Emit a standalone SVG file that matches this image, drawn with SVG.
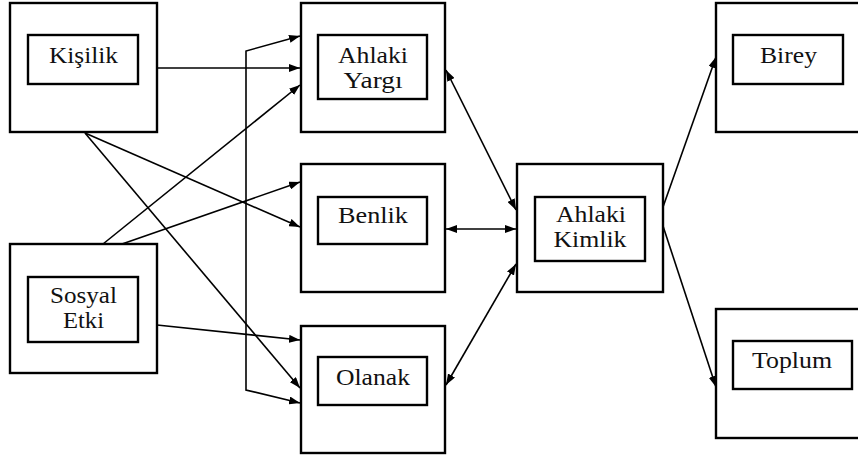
<svg xmlns="http://www.w3.org/2000/svg" width="858" height="459" viewBox="0 0 858 459">
<defs>
<marker id="ah" viewBox="0 0 11 8" refX="11" refY="4" markerWidth="11" markerHeight="8" markerUnits="userSpaceOnUse" orient="auto-start-reverse">
<path d="M0,0 L11,4 L0,8 Z" fill="#000"/>
</marker>
<style>
.outer{fill:#fff;stroke:#000;stroke-width:2.4}
.inner{fill:#fff;stroke:#000;stroke-width:2.4}
.c{fill:none;stroke:#000;stroke-width:1.6}
</style>
</defs>
<rect width="858" height="459" fill="#fff"/>
<g font-family="Liberation Serif, serif" font-size="23" fill="#111" text-anchor="middle">
<g id="kisilik">
<rect class="outer" x="10" y="3" width="147" height="129"/>
<rect class="inner" x="28" y="35" width="110" height="49"/>
<text x="83.5" y="63" textLength="69" lengthAdjust="spacingAndGlyphs">Kişilik</text>
</g>
<g id="sosyal-etki">
<rect class="outer" x="10" y="244" width="147" height="129"/>
<rect class="inner" x="28" y="277" width="110" height="65"/>
<text x="83.5" y="303" textLength="67" lengthAdjust="spacingAndGlyphs">Sosyal</text>
<text x="83.5" y="328" textLength="41" lengthAdjust="spacingAndGlyphs">Etki</text>
</g>
<g id="ahlaki-yargi">
<rect class="outer" x="301" y="3" width="144" height="129"/>
<rect class="inner" x="318" y="35" width="109" height="64"/>
<text x="373" y="63" textLength="70" lengthAdjust="spacingAndGlyphs">Ahlaki</text>
<text x="373" y="88" textLength="59" lengthAdjust="spacingAndGlyphs">Yargı</text>
</g>
<g id="benlik">
<rect class="outer" x="301" y="164" width="144" height="128"/>
<rect class="inner" x="318" y="197" width="109" height="47"/>
<text x="373" y="223" textLength="70" lengthAdjust="spacingAndGlyphs">Benlik</text>
</g>
<g id="olanak">
<rect class="outer" x="301" y="326" width="144" height="127"/>
<rect class="inner" x="318" y="357" width="109" height="48"/>
<text x="373" y="385" textLength="74" lengthAdjust="spacingAndGlyphs">Olanak</text>
</g>
<g id="ahlaki-kimlik">
<rect class="outer" x="517" y="164" width="146" height="128"/>
<rect class="inner" x="535" y="197" width="110" height="64"/>
<text x="591" y="222" textLength="70" lengthAdjust="spacingAndGlyphs">Ahlaki</text>
<text x="590" y="247" textLength="73" lengthAdjust="spacingAndGlyphs">Kimlik</text>
</g>
<g id="birey">
<rect class="outer" x="716" y="3" width="160" height="129"/>
<rect class="inner" x="733" y="35" width="110" height="49"/>
<text x="788.5" y="63" textLength="57" lengthAdjust="spacingAndGlyphs">Birey</text>
</g>
<g id="toplum">
<rect class="outer" x="716" y="309" width="160" height="129"/>
<rect class="inner" x="733" y="341" width="119" height="48"/>
<text x="792" y="368" textLength="80" lengthAdjust="spacingAndGlyphs">Toplum</text>
</g>
</g>
<g id="connectors">
<line class="c" x1="157" y1="68" x2="300" y2="68" marker-end="url(#ah)"/>
<polyline class="c" points="300,36 246,51 246,390 300,403" marker-start="url(#ah)" marker-end="url(#ah)"/>
<line class="c" x1="103" y1="244" x2="300" y2="85" marker-end="url(#ah)"/>
<line class="c" x1="122" y1="244" x2="300" y2="182" marker-end="url(#ah)"/>
<line class="c" x1="85" y1="133" x2="300" y2="227" marker-end="url(#ah)"/>
<line class="c" x1="85" y1="133" x2="300" y2="388" marker-end="url(#ah)"/>
<line class="c" x1="157" y1="325" x2="300" y2="340" marker-end="url(#ah)"/>
<line class="c" x1="446" y1="70" x2="516" y2="210" marker-start="url(#ah)" marker-end="url(#ah)"/>
<line class="c" x1="446" y1="229" x2="516" y2="229" marker-start="url(#ah)" marker-end="url(#ah)"/>
<line class="c" x1="446" y1="385" x2="516" y2="264" marker-start="url(#ah)" marker-end="url(#ah)"/>
<line class="c" x1="663" y1="207" x2="716" y2="57" marker-end="url(#ah)"/>
<line class="c" x1="663" y1="226" x2="716" y2="387" marker-end="url(#ah)"/>
</g>
</svg>
